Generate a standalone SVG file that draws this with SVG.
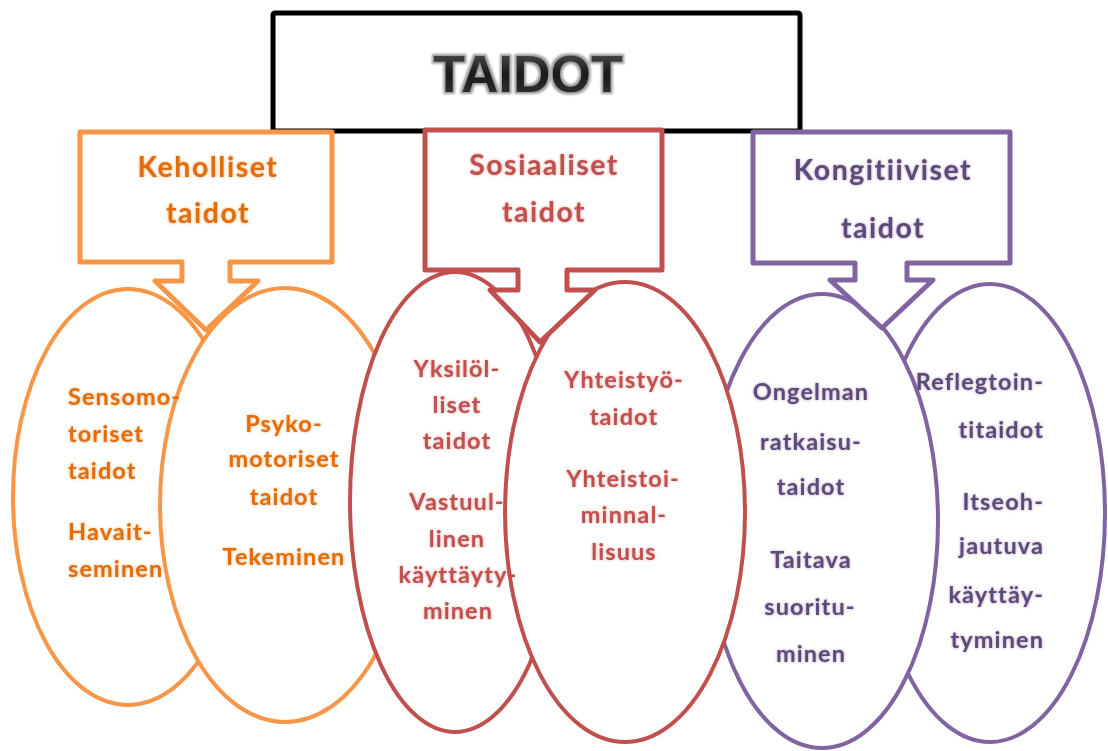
<svg xmlns="http://www.w3.org/2000/svg" width="1108" height="751" viewBox="0 0 1108 751">
  <defs>
    <!-- soft halo around the lettering -->
    <filter id="glow" x="-20%" y="-40%" width="140%" height="180%">
      <feGaussianBlur in="SourceGraphic" stdDeviation="1.8" result="b"/>
      <feComponentTransfer in="b" result="h"><feFuncA type="linear" slope="0.55"/></feComponentTransfer>
      <feMerge><feMergeNode in="h"/><feMergeNode in="SourceGraphic"/></feMerge>
    </filter>
    <filter id="titleGlow" x="-20%" y="-40%" width="140%" height="180%">
      <feMorphology in="SourceAlpha" operator="dilate" radius="1.6" result="d"/>
      <feGaussianBlur in="d" stdDeviation="1.2" result="db"/>
      <feFlood flood-color="#9a9a9a"/>
      <feComposite in2="db" operator="in" result="halo"/>
      <feMerge><feMergeNode in="halo"/><feMergeNode in="SourceGraphic"/></feMerge>
    </filter>
    <linearGradient id="titleFill" x1="0" y1="0" x2="0" y2="1">
      <stop offset="0" stop-color="#5a5a5a"/>
      <stop offset="0.5" stop-color="#1a1a1a"/>
      <stop offset="1" stop-color="#3a3a3a"/>
    </linearGradient>
  </defs>
  <style>
    .bg { fill: #ffffff; }
    .oval { fill: #ffffff; stroke-width: 4; }
    .callout { fill: #ffffff; stroke-width: 5; stroke-linejoin: round; }
    .orange { stroke: #F79646; }
    .red { stroke: #C0504D; }
    .purple { stroke: #8064A2; }
    .t { font-family: Lato, "Open Sans", sans-serif; font-weight: bold; font-size: 23.5px; letter-spacing: 1.1px; filter: url(#glow); }
    .head { font-family: Lato, "Open Sans", sans-serif; font-weight: bold; font-size: 28.5px; letter-spacing: 1.5px; text-anchor: middle; filter: url(#glow); }
    .to { fill: #E36C09; }
    .tr { fill: #C0504D; }
    .tp { fill: #5F497A; }
    .mid { text-anchor: middle; }
    .end { text-anchor: end; }
  </style>

  <rect class="bg" x="0" y="0" width="1108" height="751"/>

  <!-- top title box -->
  <g id="taidot">
    <rect x="273" y="13" width="527" height="118" fill="#ffffff" stroke="#000000" stroke-width="5" rx="2"/>
    <text x="528" y="92" font-family="'Liberation Sans', Arial, sans-serif" font-weight="bold" font-size="52" text-anchor="middle" fill="url(#titleFill)" filter="url(#titleGlow)">TAIDOT</text>
  </g>

  <!-- skill ovals, stacked back to front -->
  <g id="ovals">
    <ellipse id="oval-sensomotoriset" class="oval orange" cx="128" cy="497" rx="115" ry="208"/>
    <ellipse id="oval-psykomotoriset" class="oval orange" cx="285" cy="505" rx="125" ry="217"/>
    <ellipse id="oval-reflektointi" class="oval purple" cx="990" cy="513" rx="115" ry="229"/>
    <ellipse id="oval-ongelmanratkaisu" class="oval purple" cx="822" cy="521" rx="116" ry="227"/>
    <ellipse id="oval-yksilolliset" class="oval red" cx="455" cy="502" rx="105" ry="230"/>
    <ellipse id="oval-yhteistyo" class="oval red" cx="625" cy="512" rx="120" ry="230"/>
  </g>

  <!-- category callouts pointing down into their ovals -->
  <g id="keholliset">
    <path class="callout orange" d="M80,132 H332 V262 H230 V281 H258 L206,330 L155,281 H182 V262 H80 Z"/>
    <text class="head to" x="208" y="177">Keholliset</text>
    <text class="head to" x="208" y="223">taidot</text>
  </g>
  <g id="sosiaaliset">
    <path class="callout red" d="M425,130 H662 V270 H567 V290 H595 L540,342 L490,290 H518 V270 H425 Z"/>
    <text class="head tr" x="544" y="175">Sosiaaliset</text>
    <text class="head tr" x="544" y="222">taidot</text>
  </g>
  <g id="kongitiiviset">
    <path class="callout purple" d="M753,132 H1010 V263 H907 V280 H933 L882,328 L830,280 H855 V263 H753 Z"/>
    <text class="head tp" x="883" y="180">Kongitiiviset</text>
    <text class="head tp" x="883" y="238">taidot</text>
  </g>

  <!-- oval labels -->
  <g id="label-sensomotoriset" class="t to">
    <text x="68" y="405">Sensomo-</text>
    <text x="68" y="442">toriset</text>
    <text x="68" y="479">taidot</text>
    <text x="68" y="540">Havait-</text>
    <text x="68" y="577">seminen</text>
  </g>
  <g id="label-psykomotoriset" class="t to mid">
    <text x="284" y="432">Psyko-</text>
    <text x="284" y="467">motoriset</text>
    <text x="284" y="505">taidot</text>
    <text x="284" y="565">Tekeminen</text>
  </g>
  <g id="label-yksilolliset" class="t tr mid">
    <text x="457" y="377">Yksilöl-</text>
    <text x="457" y="413">liset</text>
    <text x="457" y="449">taidot</text>
    <text x="457" y="510">Vastuul-</text>
    <text x="457" y="547">linen</text>
    <text x="458" y="583">käyttäyty-</text>
    <text x="458" y="619">minen</text>
  </g>
  <g id="label-yhteistyo" class="t tr mid">
    <text x="624" y="388">Yhteistyö-</text>
    <text x="624" y="425">taidot</text>
    <text x="623" y="487">Yhteistoi-</text>
    <text x="624" y="523">minnal-</text>
    <text x="624" y="560">lisuus</text>
  </g>
  <g id="label-ongelmanratkaisu" class="t tp mid">
    <text x="811" y="400">Ongelman</text>
    <text x="811" y="450">ratkaisu-</text>
    <text x="811" y="495">taidot</text>
    <text x="811" y="568">Taitava</text>
    <text x="810" y="615">suoritu-</text>
    <text x="811" y="662">minen</text>
  </g>
  <g id="label-reflektointi" class="t tp end">
    <text x="1044" y="390">Reflegtoin-</text>
    <text x="1044" y="438">titaidot</text>
    <text x="1044" y="510">Itseoh-</text>
    <text x="1044" y="554">jautuva</text>
    <text x="1044" y="603">käyttäy-</text>
    <text x="1044" y="648">tyminen</text>
  </g>
</svg>
